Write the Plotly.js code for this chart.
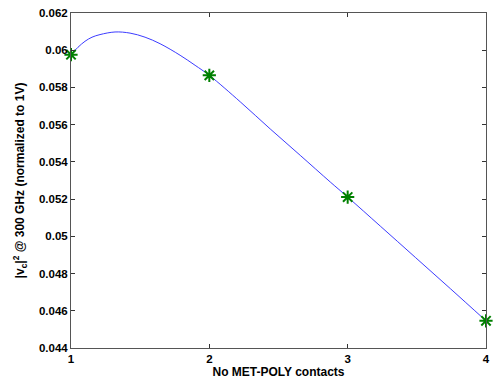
<!DOCTYPE html>
<html>
<head>
<meta charset="utf-8">
<script src="https://cdn.plot.ly/plotly-3.0.1.min.js"></script>
<style>html,body{margin:0;padding:0;background:#fff;}#chart{width:499px;height:379px;}</style>
</head>
<body>
<div id="chart"></div>
<script>
// Smooth curve
const curveX = [1.0, 1.0506, 1.1013, 1.1519, 1.2098, 1.3183, 1.4268, 1.5353, 1.6439, 1.7885, 1.8971, 2.0, 2.2231, 2.4402, 2.6572, 2.8742, 3.0, 3.2358, 3.489, 3.7422, 4.0];
const curveY = [0.05976, 0.06016, 0.06048, 0.06070, 0.06084, 0.06098, 0.06092, 0.06070, 0.06035, 0.05973, 0.05919, 0.05865, 0.05723, 0.05577, 0.05435, 0.05292, 0.05211, 0.05055, 0.04887, 0.04719, 0.04546];
// Sampled points (green stars)
const contacts = [1, 2, 3, 4];
const vc2 = [0.05976, 0.05865, 0.05211, 0.04546];
// Tick labels
const xTickVals = [1, 2, 3, 4];
const xTickText = ['1', '2', '3', '4'];
const yTickVals = [0.044, 0.046, 0.048, 0.05, 0.052, 0.054, 0.056, 0.058, 0.06, 0.062];
const yTickText = ['0.044', '0.046', '0.048', '0.05', '0.052', '0.054', '0.056', '0.058', '0.06', '0.062'];

const fam = 'Liberation Sans, Arial, sans-serif';

const traces = [
  {x: curveX, y: curveY, type: 'scatter', mode: 'lines', line: {color: 'rgb(60,60,255)', width: 1, shape: 'spline', smoothing: 1}, hoverinfo: 'none'},
  {x: contacts, y: vc2, type: 'scatter', mode: 'markers', marker: {symbol: 'asterisk-open', size: 11, color: 'rgb(0,128,0)', line: {color: 'rgb(0,128,0)', width: 2}}, cliponaxis: false}
];

const axisCommon = {
  showgrid: false, zeroline: false, showline: true, linecolor: '#555', linewidth: 1,
  mirror: 'allticks', ticks: 'inside', ticklen: 4, tickcolor: '#333', tickwidth: 1,
  tickfont: {family: fam, size: 11.5, color: '#000', weight: 700}, tickmode: 'array'
};

const layout = {
  width: 499, height: 379,
  margin: {l: 71, r: 13, t: 13, b: 31},
  paper_bgcolor: '#fff', plot_bgcolor: '#fff',
  showlegend: false,
  font: {family: fam, size: 12, color: '#000'},
  xaxis: Object.assign({}, axisCommon, {
    range: [1, 4], tickvals: xTickVals, ticktext: xTickText,
    title: {text: 'No MET-POLY contacts', font: {family: fam, size: 12, color: '#000', weight: 700}, standoff: 3}
  }),
  yaxis: Object.assign({}, axisCommon, {
    range: [0.044, 0.062], tickvals: yTickVals, ticktext: yTickText,
    title: {text: '|v<sub>c</sub>|<sup>2</sup> @ 300 GHz (normalized to 1V)', font: {family: fam, size: 12, color: '#000', weight: 700}, standoff: 11}
  })
};

Plotly.newPlot('chart', traces, layout, {staticPlot: true, displayModeBar: false});
</script>
</body>
</html>
